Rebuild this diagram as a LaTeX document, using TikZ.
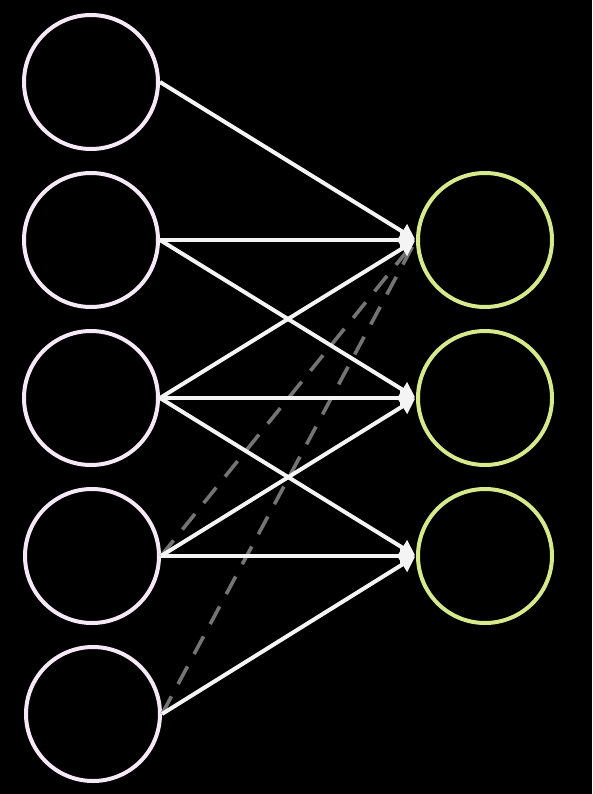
\documentclass[tikz,border=0pt]{standalone}
\usetikzlibrary{arrows.meta}
\definecolor{inpc}{HTML}{F6E8F6}
\definecolor{outc}{HTML}{D6EA8C}
\definecolor{arrc}{HTML}{F4F4F4}
\definecolor{dashc}{HTML}{747474}
\begin{document}
\begin{tikzpicture}[x=1pt,y=-1pt,
  inneuron/.style={circle,draw=inpc,line width=4pt,minimum size=134pt,inner sep=0pt},
  outneuron/.style={circle,draw=outc,line width=4pt,minimum size=134pt,inner sep=0pt},
  conn/.style={draw=arrc,line width=4pt,-{Triangle[length=15pt,width=17pt]},shorten >=1pt},
  dconn/.style={draw=dashc,line width=3.6pt,dash pattern=on 20pt off 14pt}]
\fill[black] (0,0) rectangle (592,794);
\useasboundingbox (0,0) rectangle (592,794);
\node[inneuron] (i1) at (91,82) {};
\node[inneuron] (i2) at (91,240) {};
\node[inneuron] (i3) at (91,398) {};
\node[inneuron] (i4) at (92,556) {};
\node[inneuron] (i5) at (93,714) {};
\node[outneuron] (o1) at (485,240) {};
\node[outneuron] (o2) at (485,398) {};
\node[outneuron] (o3) at (485,556) {};
\draw[dconn] (i4.east) -- (o1.west);
\draw[dconn] (i5.east) -- (o1.west);
\draw[conn] (i1.east) -- (o1.west);
\draw[conn] (i2.east) -- (o1.west);
\draw[conn] (i2.east) -- (o2.west);
\draw[conn] (i3.east) -- (o1.west);
\draw[conn] (i3.east) -- (o2.west);
\draw[conn] (i3.east) -- (o3.west);
\draw[conn] (i4.east) -- (o2.west);
\draw[conn] (i4.east) -- (o3.west);
\draw[conn] (i5.east) -- (o3.west);
\end{tikzpicture}
\end{document}
